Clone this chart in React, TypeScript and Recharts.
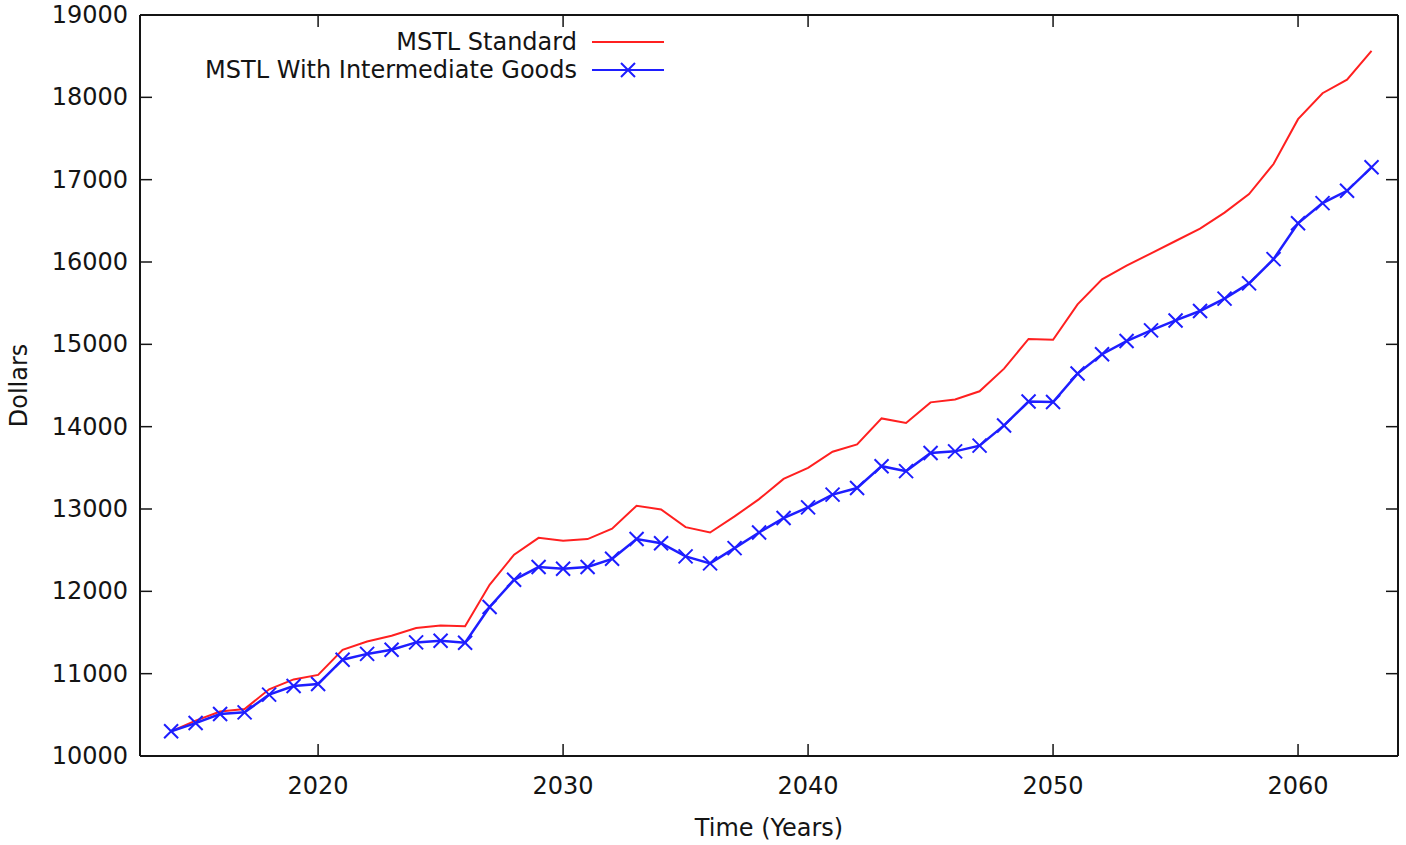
import { LineChart, Line, XAxis, YAxis, Legend } from 'recharts'

const years = [
  2014, 2015, 2016, 2017, 2018, 2019, 2020, 2021, 2022, 2023,
  2024, 2025, 2026, 2027, 2028, 2029, 2030, 2031, 2032, 2033,
  2034, 2035, 2036, 2037, 2038, 2039, 2040, 2041, 2042, 2043,
  2044, 2045, 2046, 2047, 2048, 2049, 2050, 2051, 2052, 2053,
  2054, 2055, 2056, 2057, 2058, 2059, 2060, 2061, 2062, 2063,
]

const standard = [
  10300, 10430, 10540, 10570, 10810, 10930, 10985, 11290, 11390, 11460,
  11555, 11585, 11575, 12080, 12445, 12650, 12615, 12635, 12760, 13040,
  12995, 12780, 12715, 12910, 13120, 13365, 13500, 13695, 13785, 14100,
  14045, 14295, 14330, 14430, 14705, 15065, 15055, 15485, 15790, 15955,
  16105, 16255, 16405, 16600, 16825, 17190, 17735, 18050, 18215, 18565,
]

const intermediate = [
  10300, 10400, 10510, 10530, 10745, 10850, 10875, 11170, 11240, 11290,
  11380, 11400, 11375, 11810, 12140, 12295, 12275, 12295, 12395, 12635,
  12585, 12425, 12340, 12525, 12715, 12890, 13020, 13175, 13255, 13520,
  13460, 13680, 13700, 13770, 14015, 14305, 14300, 14645, 14880, 15040,
  15170, 15290, 15405, 15555, 15740, 16035, 16470, 16715, 16865, 17150,
]

const xTicks = [2020, 2030, 2040, 2050, 2060]
const yTicks = [10000, 11000, 12000, 13000, 14000, 15000, 16000, 17000, 18000, 19000]

const data = years.map((year, i) => ({ year, standard: standard[i], intermediate: intermediate[i] }))

const FONT = '"DejaVu Sans", Verdana, sans-serif'
const INK = '#141414'
const RED = '#ff2020'
const BLUE = '#1e1eff'
const TICK = 12

const textStyle = { fontFamily: FONT, fontSize: 24, fill: INK }

const BottomTick = ({ x, y, payload }: any) => (
  <g>
    <line x1={x} y1={y} x2={x} y2={y - TICK} stroke={INK} strokeWidth={1.5} />
    <text x={x} y={y + 30} textAnchor="middle" dominantBaseline="central" style={textStyle}>{payload.value}</text>
  </g>
)

const TopTick = ({ x, y }: any) => (
  <line x1={x} y1={y} x2={x} y2={y + TICK} stroke={INK} strokeWidth={1.5} />
)

const LeftTick = ({ x, y, payload }: any) => (
  <g>
    <line x1={x} y1={y} x2={x + TICK} y2={y} stroke={INK} strokeWidth={1.5} />
    <text x={x - 12} y={y} textAnchor="end" dominantBaseline="central" style={textStyle}>{payload.value}</text>
  </g>
)

const RightTick = ({ x, y }: any) => (
  <line x1={x} y1={y} x2={x - TICK} y2={y} stroke={INK} strokeWidth={1.5} />
)

const Cross = (props: any) => {
  const { cx, cy, index } = props
  if (cx == null || cy == null) return <g key={index} />
  const s = 7
  return (
    <path
      key={index}
      d={`M${cx - s},${cy - s}L${cx + s},${cy + s}M${cx - s},${cy + s}L${cx + s},${cy - s}`}
      stroke={BLUE}
      strokeWidth={2}
      fill="none"
    />
  )
}

const LegendBox = ({ payload }: any) => (
  <div style={{ fontFamily: FONT, fontSize: 24, color: INK }}>
    {(payload || []).map((p: any) => (
      <div key={p.value} style={{ display: 'flex', justifyContent: 'flex-end', alignItems: 'center', height: 28 }}>
        <span style={{ lineHeight: '28px', whiteSpace: 'nowrap' }}>{p.value}</span>
        <svg width={72} height={20} style={{ marginLeft: 15 }}>
          <line x1={0} y1={10} x2={72} y2={10} stroke={p.color} strokeWidth={2} />
          {p.value.includes('Intermediate') && (
            <path d="M29,3L43,17M29,17L43,3" stroke={p.color} strokeWidth={2} />
          )}
        </svg>
      </div>
    ))}
  </div>
)

export default function App() {
  return (
    <div style={{ position: 'absolute', left: 0, top: 0, background: '#fff' }}>
      <LineChart width={1406} height={845} data={data} margin={{ top: 14, right: 7, bottom: 0, left: 0 }}>
        <XAxis
          dataKey="year"
          type="number"
          domain={[2012.73, 2064.08]}
          allowDataOverflow
          ticks={xTicks}
          height={89}
          tickSize={0}
          tickMargin={0}
          tickLine={false}
          tick={BottomTick}
          axisLine={{ stroke: INK, strokeWidth: 2 }}
          label={{ value: 'Time (Years)', position: 'insideBottom', offset: 9, style: { ...textStyle } }}
        />
        <XAxis
          xAxisId="top"
          orientation="top"
          dataKey="year"
          type="number"
          domain={[2012.73, 2064.08]}
          allowDataOverflow
          ticks={xTicks}
          height={1}
          tickSize={0}
          tickMargin={0}
          tickLine={false}
          tick={TopTick}
          axisLine={{ stroke: INK, strokeWidth: 2 }}
        />
        <YAxis
          type="number"
          domain={[10000, 19000]}
          allowDataOverflow
          ticks={yTicks}
          width={140}
          tickSize={0}
          tickMargin={0}
          tickLine={false}
          tick={LeftTick}
          axisLine={{ stroke: INK, strokeWidth: 2 }}
          label={{ value: 'Dollars', angle: -90, position: 'insideLeft', offset: 18, style: { ...textStyle, textAnchor: 'middle' } }}
        />
        <YAxis
          yAxisId="right"
          orientation="right"
          type="number"
          domain={[10000, 19000]}
          allowDataOverflow
          ticks={yTicks}
          width={1}
          tickSize={0}
          tickMargin={0}
          tickLine={false}
          tick={RightTick}
          axisLine={{ stroke: INK, strokeWidth: 2 }}
        />
        <Legend
          layout="horizontal"
          verticalAlign="middle"
          align="center"
          content={LegendBox}
          wrapperStyle={{ top: 28, left: 150, width: 514, height: 56 }}
        />
        <Line
          type="linear"
          dataKey="standard"
          name="MSTL Standard"
          stroke={RED}
          strokeWidth={2}
          dot={false}
          isAnimationActive={false}
        />
        <Line
          type="linear"
          dataKey="intermediate"
          name="MSTL With Intermediate Goods"
          stroke={BLUE}
          strokeWidth={2.5}
          dot={Cross}
          isAnimationActive={false}
        />
      </LineChart>
    </div>
  )
}
